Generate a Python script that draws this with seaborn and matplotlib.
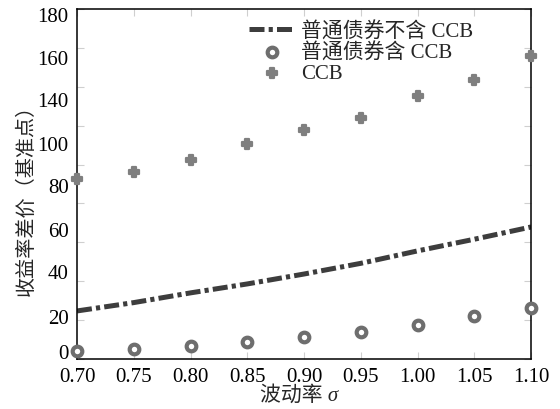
import numpy as np
import pandas as pd
import matplotlib
matplotlib.use("Agg")
import matplotlib.pyplot as plt
import seaborn as sns

# Volatility levels and yield spreads (basis points)
sigma = [0.70, 0.75, 0.80, 0.85, 0.90, 0.95, 1.00, 1.05, 1.10]
spread_no_ccb = [24.7, 29.0, 34.0, 38.6, 43.7, 49.2, 55.6, 61.6, 67.9]
spread_with_ccb = [4.1, 5.1, 6.7, 8.7, 11.3, 13.9, 17.5, 22.0, 26.2]
spread_ccb = [92.6, 96.2, 102.4, 110.6, 117.8, 124.0, 135.0, 143.5, 156.0]

labels = ["普通债券不含 CCB", "普通债券含 CCB", "CCB"]
xtick_vals = [0.70, 0.75, 0.80, 0.85, 0.90, 0.95, 1.00, 1.05, 1.10]
ytick_labels = ["0", "20", "40", "60", "80", "100", "140", "160", "180"]

df = pd.DataFrame({
    "sigma": sigma,
    "no_ccb": spread_no_ccb,
    "with_ccb": spread_with_ccb,
    "ccb": spread_ccb,
})

sns.set_style("white")
plt.rcParams["font.family"] = ["Liberation Serif", "Noto Sans CJK SC", "DejaVu Sans"]
plt.rcParams["lines.scale_dashes"] = False

fig = plt.figure(figsize=(5.6, 4.1), dpi=100)
ax = fig.add_axes([0.1375, 0.122, 0.811, 0.8536])

sns.lineplot(data=df, x="sigma", y="no_ccb", ax=ax, color="#3d3d3d",
             linewidth=3.6, label=labels[0])
ax.lines[-1].set_dashes((10.8, 3.0, 3.0, 3.0))
ax.lines[-1].set_dash_capstyle("butt")

sns.scatterplot(data=df, x="sigma", y="with_ccb", ax=ax, marker="o", s=48,
                facecolor="white", edgecolor="#6e6e6e", linewidth=3.0,
                label=labels[1], zorder=4, clip_on=False)
sns.scatterplot(data=df, x="sigma", y="ccb", ax=ax, marker="P", s=60,
                color="#7f7f7f", edgecolor="#7f7f7f", linewidth=1.6,
                label=labels[2], zorder=4, clip_on=False)

ax.set_xlim(0.70, 1.10)
ax.set_ylim(0, 180)

ax.set_xticks(xtick_vals)
ax.set_xticklabels([f"{v:.2f}" for v in xtick_vals])
ax.tick_params(axis="x", which="major", direction="in", length=5, width=0.8,
               color="#cfcfcf", top=True, bottom=True, labelsize=15, pad=6,
               labelcolor="black")

# value labels sit at their own spacing along the left edge
ytick_pos = [4.1, 22.1, 45.2, 66.9, 89.5, 111.1, 133.7, 155.3, 177.2]
ax.set_yticks(ytick_pos)
ax.set_yticklabels(ytick_labels)
ax.tick_params(axis="y", which="major", length=0, labelsize=15, pad=6,
               labelcolor="black")
ax.set_yticks(np.arange(0, 181, 20), minor=True)
ax.tick_params(axis="y", which="minor", direction="in", length=5, width=0.8,
               color="#cfcfcf", left=True, right=True)

for sp in ax.spines.values():
    sp.set_color("black")
    sp.set_linewidth(1.1)
    sp.set_visible(True)

ax.set_xlabel("波动率 σ", fontsize=15, style="italic")
ax.xaxis.set_label_coords(0.49, -0.075)
ax.set_ylabel("收益率差价（基准点）", fontsize=14.5)
ax.yaxis.set_label_coords(-0.088, 0.47)

leg = ax.legend(loc="upper left", bbox_to_anchor=(0.378, 0.965), frameon=False,
                fontsize=15, labelspacing=0.05, handlelength=2.2,
                handletextpad=0.3, borderaxespad=0, borderpad=0)

fig.savefig("out.png", dpi=100)
